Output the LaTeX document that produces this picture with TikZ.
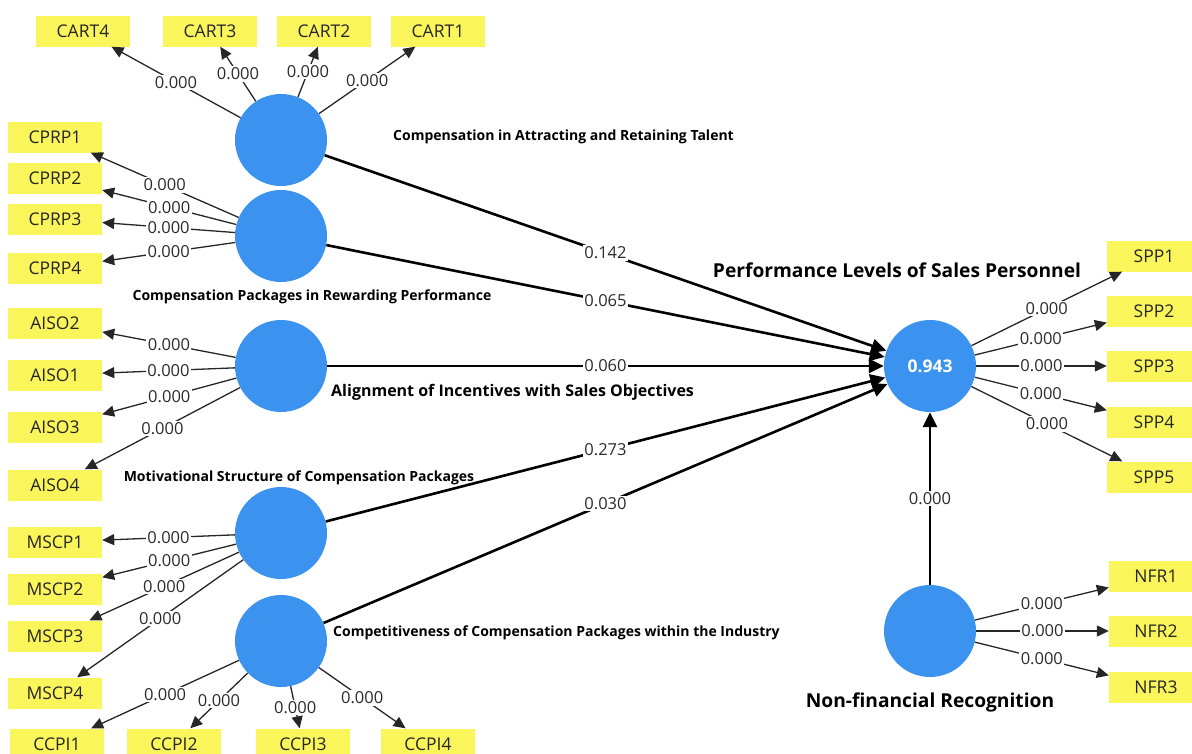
\documentclass[tikz,border=0pt]{standalone}
\usepackage{fontspec}
\setmainfont{Open Sans}
\usetikzlibrary{arrows.meta}
\definecolor{lvblue}{HTML}{3B93EF}
\definecolor{mvyellow}{HTML}{FAF55A}
\definecolor{numgray}{HTML}{2B2B2B}
\begin{document}
\begin{tikzpicture}[x=1pt,y=-1pt,
  lv/.style={circle, fill=lvblue, draw=none, minimum size=92pt, inner sep=0pt},
  mv/.style={rectangle, fill=mvyellow, draw=none, minimum width=94pt, minimum height=31pt, inner sep=0pt, font=\fontsize{17.5}{20}\selectfont, text=black!85},
  ld/.style={draw=black!85, line width=1.3pt, -{Triangle[length=12pt, width=11pt]}},
  pc/.style={draw=black, line width=2.6pt, -{Triangle[length=15pt, width=14pt]}},
  wt/.style={fill=white, inner sep=1.5pt, font=\fontsize{16.5}{18}\selectfont, text=numgray},
  smlbl/.style={font=\bfseries\fontsize{14}{16}\selectfont, inner sep=0pt},
  lglbl/.style={font=\bfseries\fontsize{16}{18}\selectfont, inner sep=0pt},
  xllbl/.style={font=\bfseries\fontsize{19.2}{22}\selectfont, inner sep=0pt}]
\clip (0,0) rectangle (1192,753);
\useasboundingbox (0,0) rectangle (1192,753);
\node [lv] (cart) at (281,140) {};
\node [lv] (cprp) at (281,236) {};
\node [lv] (aiso) at (281,366) {};
\node [lv] (mscp) at (281,533) {};
\node [lv] (ccpi) at (281,641) {};
\node [lv, text=white, font=\bfseries\fontsize{17.5}{20}\selectfont] (spp) at (930,366) {0.943};
\node [lv] (nfr) at (930,631) {};
\node [mv] (cart4) at (83,31) {CART4};
\node [mv] (cart3) at (210,31) {CART3};
\node [mv] (cart2) at (324,31) {CART2};
\node [mv] (cart1) at (438,31) {CART1};
\node [mv] (cprp1) at (55,137) {CPRP1};
\node [mv] (cprp2) at (55,178) {CPRP2};
\node [mv] (cprp3) at (55,219) {CPRP3};
\node [mv] (cprp4) at (55,268) {CPRP4};
\node [mv] (aiso2) at (55,323) {AISO2};
\node [mv] (aiso1) at (55,375) {AISO1};
\node [mv] (aiso3) at (55,427) {AISO3};
\node [mv] (aiso4) at (55,485) {AISO4};
\node [mv] (mscp1) at (55,542) {MSCP1};
\node [mv] (mscp2) at (55,589) {MSCP2};
\node [mv] (mscp3) at (55,636) {MSCP3};
\node [mv] (mscp4) at (55,693) {MSCP4};
\node [mv] (ccpi1) at (57,744) {CCPI1};
\node [mv] (ccpi2) at (174,744) {CCPI2};
\node [mv] (ccpi3) at (303,744) {CCPI3};
\node [mv] (ccpi4) at (428,744) {CCPI4};
\node [mv] (spp1) at (1154,256) {SPP1};
\node [mv] (spp2) at (1154,311) {SPP2};
\node [mv] (spp3) at (1154,366) {SPP3};
\node [mv] (spp4) at (1154,422) {SPP4};
\node [mv] (spp5) at (1154,477) {SPP5};
\node [mv] (nfr1) at (1156,576) {NFR1};
\node [mv] (nfr2) at (1156,631) {NFR2};
\node [mv] (nfr3) at (1156,687) {NFR3};
\node [smlbl, anchor=west] (cartlbl) at (393,137) {Compensation in Attracting and Retaining Talent};
\node [smlbl] (cprplbl) at (312,297) {Compensation Packages in Rewarding Performance};
\node [lglbl, anchor=west] (aisolbl) at (331,392) {Alignment of Incentives with Sales Objectives};
\node [smlbl] (mscplbl) at (299,478) {Motivational Structure of Compensation Packages};
\node [smlbl, anchor=west] (ccpilbl) at (333,633) {Competitiveness of Compensation Packages within the Industry};
\node [xllbl] (spplbl) at (897,270) {Performance Levels of Sales Personnel};
\node [xllbl] (nfrlbl) at (930,702) {Non-financial Recognition};
\draw [ld] (cart) -- node [wt] {0.000} (cart4);
\draw [ld] (cart) -- node [wt] {0.000} (cart3);
\draw [ld] (cart) -- node [wt] {0.000} (cart2);
\draw [ld] (cart) -- node [wt] {0.000} (cart1);
\draw [ld] (cprp) -- node [wt] {0.000} (cprp1);
\draw [ld] (cprp) -- node [wt] {0.000} (cprp2);
\draw [ld] (cprp) -- node [wt] {0.000} (cprp3);
\draw [ld] (cprp) -- node [wt] {0.000} (cprp4);
\draw [ld] (aiso) -- node [wt] {0.000} (aiso2);
\draw [ld] (aiso) -- node [wt] {0.000} (aiso1);
\draw [ld] (aiso) -- node [wt] {0.000} (aiso3);
\draw [ld] (aiso) -- node [wt] {0.000} (aiso4);
\draw [ld] (mscp) -- node [wt] {0.000} (mscp1);
\draw [ld] (mscp) -- node [wt] {0.000} (mscp2);
\draw [ld] (mscp) -- node [wt] {0.000} (mscp3);
\draw [ld] (mscp) -- node [wt] {0.000} (mscp4);
\draw [ld] (ccpi) -- node [wt] {0.000} (ccpi1);
\draw [ld] (ccpi) -- node [wt] {0.000} (ccpi2);
\draw [ld] (ccpi) -- node [wt] {0.000} (ccpi3);
\draw [ld] (ccpi) -- node [wt] {0.000} (ccpi4);
\draw [ld] (spp) -- node [wt] {0.000} (spp1);
\draw [ld] (spp) -- node [wt] {0.000} (spp2);
\draw [ld] (spp) -- node [wt] {0.000} (spp3);
\draw [ld] (spp) -- node [wt] {0.000} (spp4);
\draw [ld] (spp) -- node [wt] {0.000} (spp5);
\draw [ld] (nfr) -- node [wt] {0.000} (nfr1);
\draw [ld] (nfr) -- node [wt] {0.000} (nfr2);
\draw [ld] (nfr) -- node [wt] {0.000} (nfr3);
\draw [pc] (cart) -- node [wt] {0.142} (spp);
\draw [pc] (cprp) -- node [wt] {0.065} (spp);
\draw [pc] (aiso) -- node [wt] {0.060} (spp);
\draw [pc] (mscp) -- node [wt] {0.273} (spp);
\draw [pc] (ccpi) -- node [wt] {0.030} (spp);
\draw [pc] (nfr) -- node [wt] {0.000} (spp);
\end{tikzpicture}
\end{document}
